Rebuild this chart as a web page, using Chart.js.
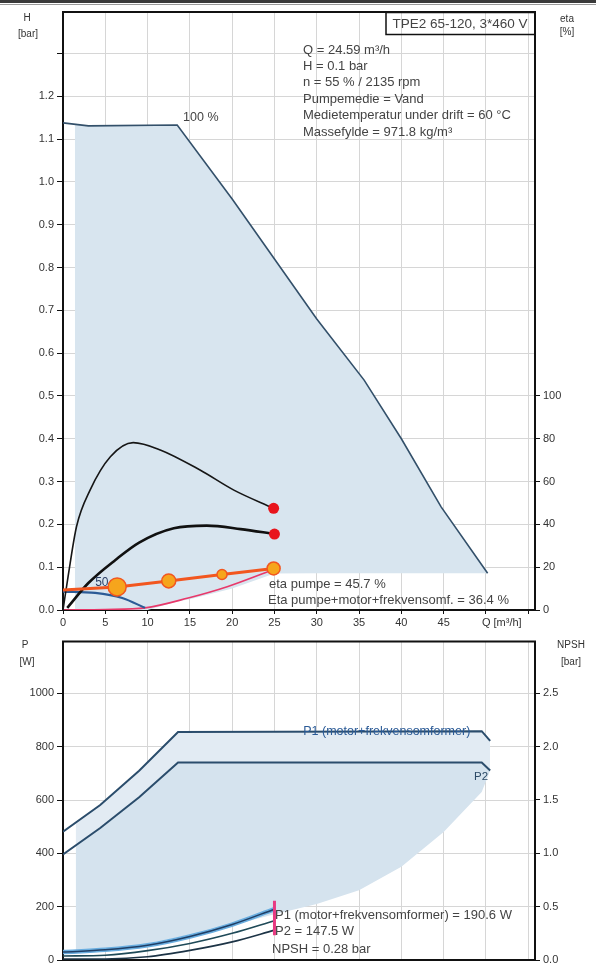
<html>
<head>
<script src="https://cdn.jsdelivr.net/npm/chart.js@4.4.1/dist/chart.umd.min.js"></script>
<style>
  body { margin: 0; background: #fff; width: 596px; height: 965px; overflow: hidden; position: relative; }
  #bar1 { position: absolute; left: 0; top: 0; width: 596px; height: 3px; background: #3a3a3a; }
  #bar2 { position: absolute; left: 0; top: 4px; width: 596px; height: 1px; background: #9a9a9a; }
  #topChart { position: absolute; left: 0; top: 0; }
  #bottomChart { position: absolute; left: 0; top: 632px; }
</style>
</head>
<body>
<div id="bar1"></div>
<div id="bar2"></div>
<canvas id="topChart" width="596" height="632"></canvas>
<canvas id="bottomChart" width="596" height="345"></canvas>

<script>
// ---- top chart: H [bar] / eta [%] against Q [m3/h]
var maxQ = [0, 3, 13.5, 20, 25, 30, 35.6, 40, 44.7, 50.2];
var maxH = [1.138, 1.131, 1.133, 0.96, 0.82, 0.68, 0.537, 0.40, 0.241, 0.086];

var areaQ = [1.4, 3, 10, 13.5, 15, 20, 25, 30, 35.6, 40, 44.7, 50.2];
var areaTopH = [1.135, 1.131, 1.132, 1.133, 1.093, 0.96, 0.82, 0.68, 0.537, 0.40, 0.241, 0.086];
var areaLowH = [0, 0, 0, 0.02, 0.025, 0.05, 0.085, 0.086, 0.086, 0.086, 0.086, 0.086];

var etaPumpQ = [0, 0.6, 1.6, 3.2, 5.6, 8.3, 11.5, 16.2, 20.2, 24.9];
var etaPump = [0, 15.6, 39, 56, 71.6, 78.2, 74.8, 65.4, 56, 47.5];

var etaTotQ = [0.5, 3, 6.2, 9, 13.1, 17, 21, 25];
var etaTot = [1, 12.6, 23.4, 31.5, 38.2, 39.4, 37.8, 35.5];

var dutyQ = [0, 6.4, 12.5, 18.8, 24.9];
var dutyH = [0.047, 0.054, 0.068, 0.083, 0.097];

var hCurveQ = [0, 3.8, 7, 9.7];
var hCurveH = [0.043, 0.04, 0.028, 0.005];

var sysQ = [0, 5, 9.7, 14.8, 19.5, 24.3, 25];
var sysH = [0, 0.001, 0.005, 0.028, 0.055, 0.09, 0.095];

var hTicks = [0, 0.1, 0.2, 0.3, 0.4, 0.5, 0.6, 0.7, 0.8, 0.9, 1.0, 1.1, 1.2, 1.3];
var etaTicks = [0, 20, 40, 60, 80, 100];
var qTicks = [0, 5, 10, 15, 20, 25, 30, 35, 40, 45, 50, 55];

var infoLines = [
  "Q = 24.59 m\u00b3/h",
  "H = 0.1 bar",
  "n = 55 % / 2135 rpm",
  "Pumpemedie = Vand",
  "Medietemperatur under drift = 60 \u00b0C",
  "Massefylde = 971.8 kg/m\u00b3"
];
var etaLegend = ["eta pumpe = 45.7 %", "Eta pumpe+motor+frekvensomf. = 36.4 %"];

// ---- bottom chart: P [W] / NPSH [bar]
var p1Q = [0, 4.4, 9, 13.6, 49.5, 50.5];
var p1 = [481, 581, 710, 855, 858, 822];
var p2 = [396, 495, 610, 741, 741, 711];

var bAreaQ = [1.5, 4.4, 9, 13.6, 20, 25, 30, 35, 40, 45, 49.5, 50.5];
var bAreaP1 = [515, 581, 710, 855, 856, 856, 857, 857, 858, 858, 858, 822];
var bAreaP2 = [430, 495, 610, 741, 741, 741, 741, 741, 741, 741, 741, 711];
var bAreaLow = [31, 38, 56, 85, 130, 172, 210, 262, 350, 480, 630, 711];

var smallQ = [0, 5, 10, 15, 20, 25];
var p1Small = [30, 38, 55, 88, 133, 190.6];
var p2Small = [15, 18, 35, 62, 100, 147.5];
var npsh = [0.01, 0.01, 0.03, 0.09, 0.17, 0.28];
var markQ = [25, 25];
var markP = [93, 222];

var pTicks = [0, 200, 400, 600, 800, 1000];
var npshTicks = [0, 0.5, 1.0, 1.5, 2.0, 2.5];

var powerLegend = ["P1 (motor+frekvensomformer) = 190.6 W", "P2 = 147.5 W", "NPSH = 0.28 bar"];

function pts(xs, ys) {
  return xs.map(function (x, i) { return { x: x, y: ys[i] }; });
}

var FONT = "'Liberation Sans', Arial, sans-serif";
var GRID = '#d6d6d6';
var TXT = '#333';
var NOTE = '#444';

Chart.defaults.font.family = FONT;
Chart.defaults.color = TXT;

function lastDot(r) {
  return function (ctx) { return ctx.dataIndex === ctx.dataset.data.length - 1 ? r : 0; };
}

var frame = {
  id: 'frame',
  afterDraw: function (chart) {
    var c = chart.ctx, a = chart.chartArea;
    c.save();
    c.strokeStyle = '#111';
    c.lineWidth = 2;
    c.beginPath();
    c.moveTo(a.left - 1, a.top);
    c.lineTo(a.right + 1, a.top);
    c.stroke();
    c.restore();
  }
};

// top chart texts
var topText = {
  id: 'topText',
  afterDraw: function (chart) {
    var c = chart.ctx, x = chart.scales.x, y = chart.scales.y;
    c.save();
    c.fillStyle = TXT;
    c.textBaseline = 'middle';

    c.font = '10px ' + FONT;
    c.textAlign = 'center';
    c.fillText('H', 27, 18);
    c.fillText('[bar]', 28, 34);
    c.fillText('eta', 567, 19);
    c.fillText('[%]', 567, 32);

    // type box
    c.strokeStyle = '#111';
    c.lineWidth = 1.5;
    c.strokeRect(386, 12.5, 149, 22);
    c.fillStyle = NOTE;
    c.font = '13.5px ' + FONT;
    c.fillText('TPE2 65-120, 3*460 V', 460, 24);

    c.textAlign = 'left';
    c.font = '13px ' + FONT;
    infoLines.forEach(function (t, i) { c.fillText(t, 303, 50 + i * 16.4); });

    c.font = '12.5px ' + FONT;
    c.fillText('100 %', x.getPixelForValue(14.2), y.getPixelForValue(1.15));
    c.fillStyle = '#2b3f66';
    c.font = '12px ' + FONT;
    c.fillText('50', x.getPixelForValue(3.8), y.getPixelForValue(0.064));

    c.fillStyle = NOTE;
    c.font = '13px ' + FONT;
    c.fillText(etaLegend[0], 269, 584);
    c.fillText(etaLegend[1], 268, 600);

    c.fillStyle = TXT;
    c.font = '11px ' + FONT;
    c.fillText('Q [m\u00b3/h]', x.getPixelForValue(50) - 4, 623);
    c.restore();
  }
};

var bottomText = {
  id: 'bottomText',
  afterDraw: function (chart) {
    var c = chart.ctx, x = chart.scales.x, y = chart.scales.y;
    c.save();
    c.fillStyle = TXT;
    c.textBaseline = 'middle';
    c.font = '10px ' + FONT;
    c.textAlign = 'center';
    c.fillText('P', 25, 13);
    c.fillText('[W]', 27, 30);
    c.fillText('NPSH', 571, 13);
    c.fillText('[bar]', 571, 30);

    c.textAlign = 'left';
    c.fillStyle = '#2a5a96';
    c.font = '12.5px ' + FONT;
    c.fillText('P1 (motor+frekvensomformer)', x.getPixelForValue(28.4), y.getPixelForValue(858));
    c.fillStyle = '#2c4a66';
    c.font = '11.5px ' + FONT;
    c.fillText('P2', x.getPixelForValue(48.6), y.getPixelForValue(686));

    c.fillStyle = NOTE;
    c.font = '13px ' + FONT;
    c.fillText(powerLegend[0], 275, 283);
    c.fillText(powerLegend[1], 275, 299);
    c.fillText(powerLegend[2], 272, 317);
    c.restore();
  }
};

function setTicks(vals) {
  return function (s) { s.ticks = vals.map(function (v) { return { value: v }; }); };
}

function yLeft(max, vals, top, fmt, w) {
  return {
    type: 'linear', position: 'left', min: 0, max: max,
    afterFit: function (s) { s.width = w; },
    afterBuildTicks: setTicks(vals),
    border: { color: '#111', width: 2 },
    grid: { color: GRID, lineWidth: 1, tickColor: '#111', tickLength: 6 },
    ticks: {
      padding: 3, font: { size: 11 }, color: TXT, autoSkip: false,
      callback: function (v) { return v <= top + 1e-6 ? fmt(v) : ''; }
    }
  };
}

function yRight(max, vals, fmt) {
  return {
    type: 'linear', position: 'right', min: 0, max: max,
    afterFit: function (s) { s.width = 61; },
    afterBuildTicks: setTicks(vals),
    border: { color: '#111', width: 2 },
    grid: { drawOnChartArea: false, tickColor: '#111', tickLength: 5 },
    ticks: {
      padding: 3, font: { size: 11 }, color: TXT, autoSkip: false,
      callback: function (v) { return fmt(v); }
    }
  };
}

function xAxis(h, labels) {
  return {
    type: 'linear', min: 0, max: 55.8,
    afterFit: function (s) { s.height = h; },
    afterBuildTicks: setTicks(qTicks),
    border: { color: '#111', width: 2 },
    grid: { color: GRID, lineWidth: 1, tickColor: '#111', tickLength: 4, drawTicks: labels },
    ticks: {
      display: labels, padding: 2, maxRotation: 0, autoSkip: false,
      font: { size: 11 }, color: TXT,
      callback: function (v) { return v <= 45 ? String(v) : ''; }
    }
  };
}

var topChart = new Chart(document.getElementById('topChart').getContext('2d'), {
  type: 'line',
  data: {
    datasets: [
      { data: pts(areaQ, areaTopH), yAxisID: 'y', borderWidth: 0, pointRadius: 0,
        fill: '+1', backgroundColor: '#d8e5ef', order: 10 },
      { data: pts(areaQ, areaLowH), yAxisID: 'y', borderWidth: 0, pointRadius: 0,
        fill: false, order: 11 },
      { data: pts(maxQ, maxH), yAxisID: 'y', borderColor: '#33506a', borderWidth: 1.6,
        pointRadius: 0, fill: false, tension: 0, order: 5 },
      { data: pts(sysQ, sysH), yAxisID: 'y', borderColor: '#e8386a', borderWidth: 1.6,
        pointRadius: 0, fill: false, cubicInterpolationMode: 'monotone', order: 4 },
      { data: pts(hCurveQ, hCurveH), yAxisID: 'y', borderColor: '#2c5b96', borderWidth: 2.2,
        pointRadius: 0, fill: false, cubicInterpolationMode: 'monotone', order: 3 },
      { data: pts(dutyQ, dutyH), yAxisID: 'y', borderColor: '#f2561f', borderWidth: 3,
        pointRadius: [0, 9, 7, 5, 6.5], pointBackgroundColor: '#f6a51c',
        pointBorderColor: '#f2561f', pointBorderWidth: 1.5, fill: false, tension: 0, order: 1 },
      { data: pts(etaPumpQ, etaPump), yAxisID: 'y2', borderColor: '#161616', borderWidth: 1.6,
        pointRadius: lastDot(5.5), pointBackgroundColor: '#e8141c', pointBorderWidth: 0,
        fill: false, cubicInterpolationMode: 'monotone', order: 2 },
      { data: pts(etaTotQ, etaTot), yAxisID: 'y2', borderColor: '#111', borderWidth: 2.6,
        pointRadius: lastDot(5.5), pointBackgroundColor: '#e8141c', pointBorderWidth: 0,
        fill: false, cubicInterpolationMode: 'monotone', order: 2 }
    ]
  },
  options: {
    responsive: false, animation: false, devicePixelRatio: 1,
    layout: { padding: { top: 12, left: 0, right: 0, bottom: 0 } },
    plugins: { legend: { display: false }, tooltip: { enabled: false } },
    scales: {
      x: xAxis(22, true),
      y: yLeft(1.397, hTicks, 1.2, function (v) { return v.toFixed(1); }, 63),
      y2: yRight(279.4, etaTicks, function (v) { return String(v); })
    }
  },
  plugins: [frame, topText]
});

var bottomChart = new Chart(document.getElementById('bottomChart').getContext('2d'), {
  type: 'line',
  data: {
    datasets: [
      { data: pts(bAreaQ, bAreaP1), yAxisID: 'y', borderWidth: 0, pointRadius: 0,
        fill: '+1', backgroundColor: '#e2ebf3', order: 10 },
      { data: pts(bAreaQ, bAreaP2), yAxisID: 'y', borderWidth: 0, pointRadius: 0,
        fill: '+1', backgroundColor: '#d5e3ee', order: 11 },
      { data: pts(bAreaQ, bAreaLow), yAxisID: 'y', borderWidth: 0, pointRadius: 0,
        fill: false, order: 12 },
      { data: pts(p1Q, p1), yAxisID: 'y', borderColor: '#2b4d6c', borderWidth: 2,
        pointRadius: 0, fill: false, tension: 0, order: 5 },
      { data: pts(p1Q, p2), yAxisID: 'y', borderColor: '#2b4d6c', borderWidth: 2,
        pointRadius: 0, fill: false, tension: 0, order: 5 },
      { data: pts(smallQ, p1Small), yAxisID: 'y', borderColor: '#6aaee0', borderWidth: 4.5,
        pointRadius: 0, fill: false, cubicInterpolationMode: 'monotone', order: 6 },
      { data: pts(smallQ, p1Small), yAxisID: 'y', borderColor: '#1f3f66', borderWidth: 1.5,
        pointRadius: 0, fill: false, cubicInterpolationMode: 'monotone', order: 4 },
      { data: pts(smallQ, p2Small), yAxisID: 'y', borderColor: '#1f4a58', borderWidth: 1.6,
        pointRadius: 0, fill: false, cubicInterpolationMode: 'monotone', order: 4 },
      { data: pts(smallQ, npsh), yAxisID: 'y2', borderColor: '#1d3446', borderWidth: 1.6,
        pointRadius: 0, fill: false, cubicInterpolationMode: 'monotone', order: 4 },
      { data: pts(markQ, markP), yAxisID: 'y', borderColor: '#e83a82', borderWidth: 3,
        pointRadius: 0, fill: false, order: 1 }
    ]
  },
  options: {
    responsive: false, animation: false, devicePixelRatio: 1,
    layout: { padding: { top: 8, left: 0, right: 0, bottom: 0 } },
    plugins: { legend: { display: false }, tooltip: { enabled: false } },
    scales: {
      x: xAxis(17, false),
      y: yLeft(1194, pTicks, 1000, function (v) { return String(v); }, 63),
      y2: yRight(2.985, npshTicks, function (v) { return v.toFixed(1); })
    }
  },
  plugins: [frame, bottomText]
});
</script>
</body>
</html>
